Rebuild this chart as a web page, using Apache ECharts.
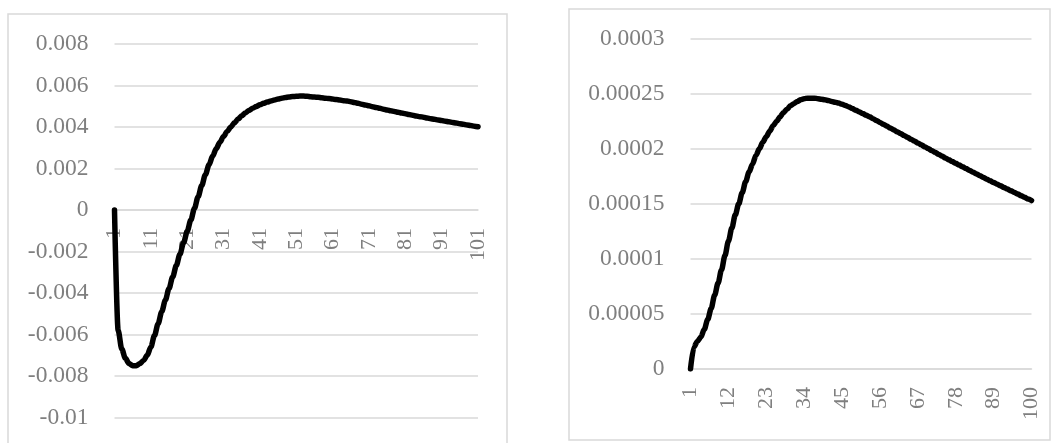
<!DOCTYPE html>
<html>
<head>
<meta charset="utf-8">
<script src="https://cdn.jsdelivr.net/npm/echarts@6/dist/echarts.min.js"></script>
<style>
html,body{margin:0;padding:0;background:#fff;}
#c{width:1052px;height:443px;}
</style>
</head>
<body>
<div id="c"></div>
<script>
const catsLeft = [1,2,3,4,5,6,7,8,9,10,11,12,13,14,15,16,17,18,19,20,21,22,23,24,25,26,27,28,29,30,31,32,33,34,35,36,37,38,39,40,41,42,43,44,45,46,47,48,49,50,51,52,53,54,55,56,57,58,59,60,61,62,63,64,65,66,67,68,69,70,71,72,73,74,75,76,77,78,79,80,81,82,83,84,85,86,87,88,89,90,91,92,93,94,95,96,97,98,99,100,101];
const catsRight = [1,2,3,4,5,6,7,8,9,10,11,12,13,14,15,16,17,18,19,20,21,22,23,24,25,26,27,28,29,30,31,32,33,34,35,36,37,38,39,40,41,42,43,44,45,46,47,48,49,50,51,52,53,54,55,56,57,58,59,60,61,62,63,64,65,66,67,68,69,70,71,72,73,74,75,76,77,78,79,80,81,82,83,84,85,86,87,88,89,90,91,92,93,94,95,96,97,98,99,100];

const valuesLeft = [
  0, -0.0058, -0.0067, -0.00715, -0.0074, -0.0075, -0.0075, -0.0074, -0.00725, -0.0070,
  -0.0066, -0.00605, -0.00548, -0.0049, -0.00434, -0.00378, -0.00323, -0.00268, -0.00213, -0.00158,
  -0.00103, -0.00048, 0.00008, 0.00064, 0.00118, 0.0017, 0.00218, 0.0026, 0.00296, 0.00327,
  0.00354, 0.00378, 0.004, 0.0042, 0.00438, 0.00454, 0.00468, 0.0048, 0.0049, 0.00499,
  0.00507, 0.00514, 0.0052, 0.00525, 0.0053, 0.00535, 0.00539, 0.00542, 0.00545, 0.00547,
  0.00548, 0.00549, 0.00549, 0.00548, 0.00546, 0.00544, 0.00543, 0.00541, 0.00539, 0.00537,
  0.00535, 0.00532, 0.0053, 0.00527, 0.00525, 0.00522, 0.00518, 0.00514, 0.0051, 0.00506,
  0.00502, 0.00498, 0.00494, 0.0049, 0.00486, 0.00482, 0.00478, 0.00475, 0.00471, 0.00467,
  0.00464, 0.0046, 0.00457, 0.00453, 0.0045, 0.00447, 0.00443, 0.0044, 0.00437, 0.00434,
  0.00431, 0.00428, 0.00425, 0.00422, 0.00419, 0.00416, 0.00413, 0.0041, 0.00407, 0.00404,
  0.00401
];

const valuesRight = [
  0, 0.00002, 0.000025, 0.000029, 0.000036, 0.000045, 0.000055, 0.000067, 0.000078, 0.00009,
  0.000103, 0.000116, 0.000128, 0.00014, 0.00015, 0.00016, 0.00017, 0.000179, 0.000186, 0.000194,
  0.0002, 0.000206, 0.000211, 0.000216, 0.000221, 0.000225, 0.000229, 0.000233, 0.000236, 0.000239,
  0.000241, 0.000243, 0.0002445, 0.0002455, 0.000246, 0.000246, 0.000246, 0.0002455, 0.000245, 0.0002445,
  0.0002438, 0.000243, 0.0002422, 0.0002415, 0.0002405, 0.0002393, 0.000238, 0.0002365, 0.000235, 0.0002335,
  0.000232, 0.0002305, 0.000229, 0.0002274, 0.0002257, 0.000224, 0.0002223, 0.0002206, 0.0002189, 0.0002172,
  0.0002155, 0.0002138, 0.0002121, 0.0002104, 0.0002087, 0.000207, 0.0002053, 0.0002036, 0.0002019, 0.0002002,
  0.0001985, 0.0001968, 0.0001951, 0.0001934, 0.0001917, 0.00019, 0.0001884, 0.0001868, 0.0001852, 0.0001836,
  0.000182, 0.0001804, 0.0001788, 0.0001772, 0.0001756, 0.000174, 0.0001724, 0.0001709, 0.0001694, 0.0001679,
  0.0001664, 0.0001649, 0.0001634, 0.0001619, 0.0001604, 0.0001589, 0.0001574, 0.0001559, 0.0001544, 0.000153
];

const yTicksLeft = {min: -0.01, max: 0.008, interval: 0.002};
const yTicksRight = {min: 0, max: 0.0003, interval: 0.00005};

const FONT = '"Liberation Serif", "DejaVu Serif", serif';
const TXT = '#7f7f7f';
const GRIDC = '#d9d9d9';
const fmt = v => String(parseFloat(v.toFixed(8)));

const chart = echarts.init(document.getElementById('c'), null, {renderer: 'canvas'});

// grid geometry
const g1 = {left: 114.5, top: 44, width: 363.5, height: 373.5};
const g2 = {left: 690.5, top: 38.7, width: 341, height: 330.3};
// place left x axis at value 0 (offset from grid bottom)
const zeroOffsetLeft = -g1.height * (0 - yTicksLeft.min) / (yTicksLeft.max - yTicksLeft.min);

function xAxisDef(gridIndex, cats, interval, offset) {
  return {
    type: 'category', gridIndex, data: cats, boundaryGap: false, position: 'bottom', offset,
    axisLine: {show: true, onZero: false, lineStyle: {color: GRIDC, width: 1.5}},
    axisTick: {show: false},
    splitLine: {show: false},
    axisLabel: {interval, rotate: 90, margin: 18, color: TXT, fontFamily: FONT, fontSize: 22}
  };
}
function yAxisDef(gridIndex, t) {
  return {
    type: 'value', gridIndex, min: t.min, max: t.max, interval: t.interval,
    axisLine: {show: false}, axisTick: {show: false},
    splitLine: {show: true, lineStyle: {color: GRIDC, width: 1.5}},
    axisLabel: {formatter: fmt, margin: 26, color: TXT, fontFamily: FONT, fontSize: 23.5}
  };
}

chart.setOption({
  animation: false,
  backgroundColor: '#fff',
  graphic: [
    {type: 'rect', shape: {x: 8, y: 14, width: 499, height: 445}, style: {fill: 'none', stroke: GRIDC, lineWidth: 1.5}, silent: true},
    {type: 'rect', shape: {x: 569, y: 9, width: 481, height: 431}, style: {fill: 'none', stroke: GRIDC, lineWidth: 1.5}, silent: true}
  ],
  grid: [
    Object.assign({containLabel: false, outerBoundsMode: 'none'}, g1),
    Object.assign({containLabel: false, outerBoundsMode: 'none'}, g2)
  ],
  xAxis: [xAxisDef(0, catsLeft, 9, zeroOffsetLeft), xAxisDef(1, catsRight, 10, 0)],
  yAxis: [yAxisDef(0, yTicksLeft), yAxisDef(1, yTicksRight)],
  series: [
    {type: 'line', xAxisIndex: 0, yAxisIndex: 0, data: valuesLeft, showSymbol: false, smooth: 0.3, smoothMonotone: 'x',
     lineStyle: {color: '#000', width: 5.5, cap: 'round', join: 'round'}},
    {type: 'line', xAxisIndex: 1, yAxisIndex: 1, data: valuesRight, showSymbol: false, smooth: 0.3, smoothMonotone: 'x',
     lineStyle: {color: '#000', width: 5.5, cap: 'round', join: 'round'}}
  ]
});
</script>
</body>
</html>
